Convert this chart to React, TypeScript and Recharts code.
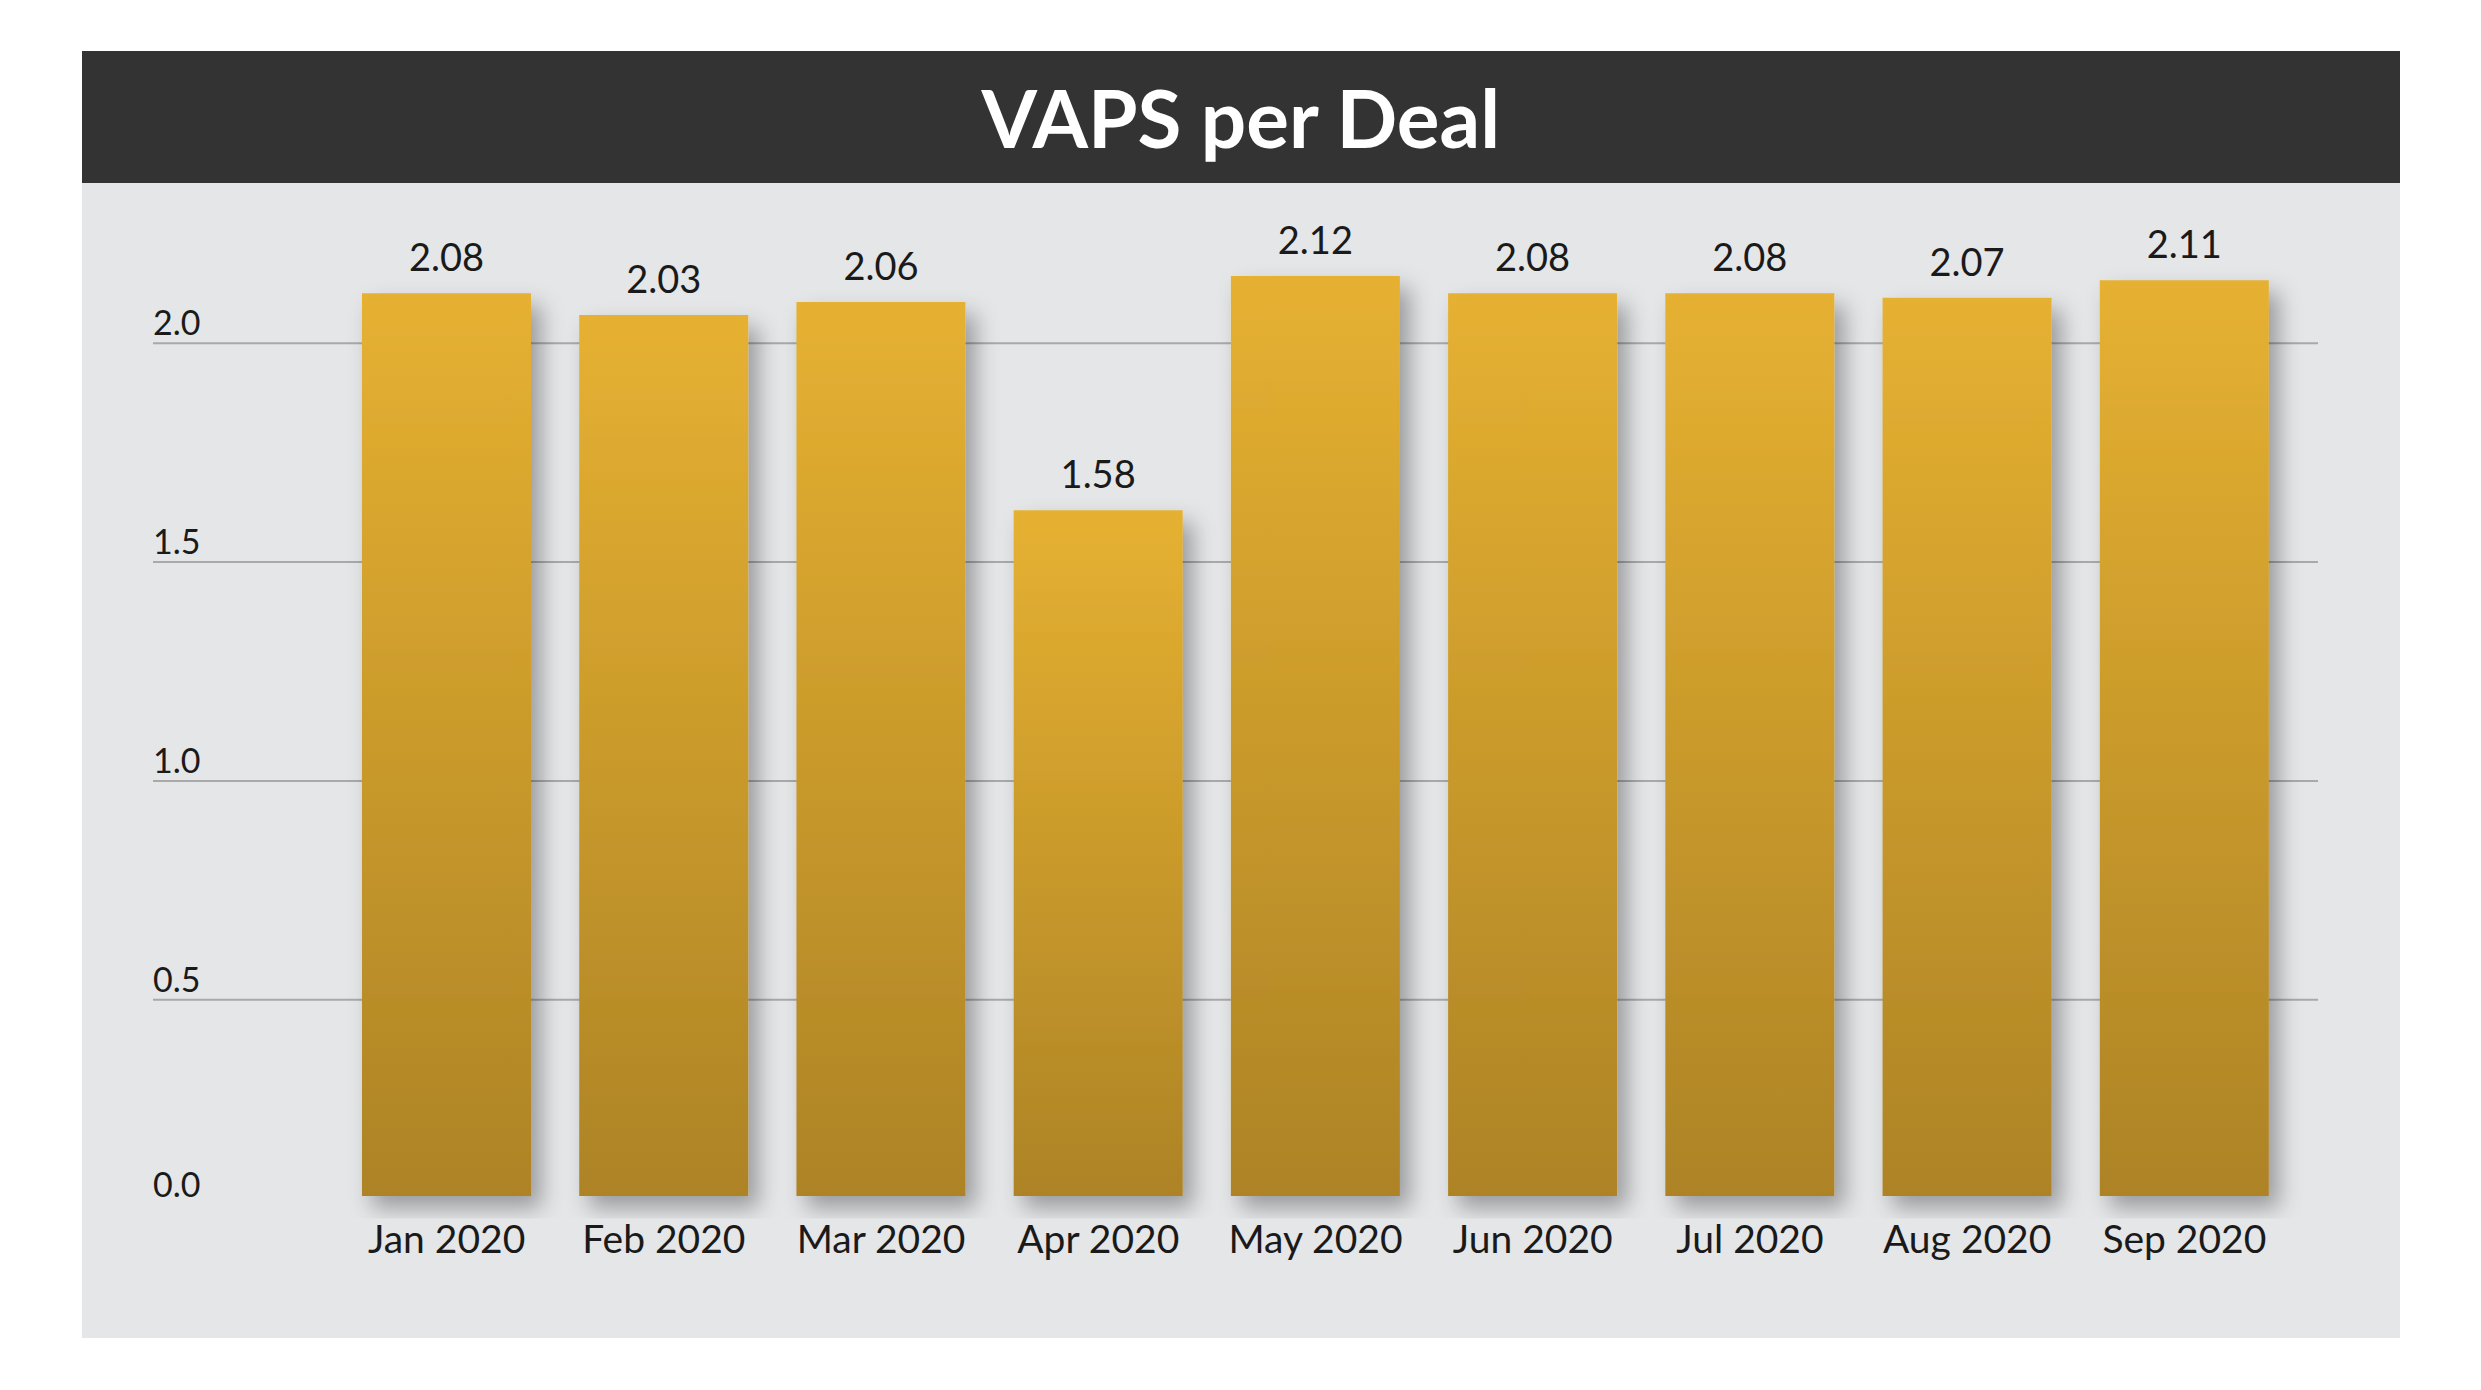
import React from 'react';
import { BarChart, Bar, XAxis, YAxis, CartesianGrid, LabelList } from 'recharts';

const months = ['Jan 2020', 'Feb 2020', 'Mar 2020', 'Apr 2020', 'May 2020', 'Jun 2020', 'Jul 2020', 'Aug 2020', 'Sep 2020'];
const vapsPerDeal = [2.08, 2.03, 2.06, 1.58, 2.12, 2.08, 2.08, 2.07, 2.11];
const yTicks = [0, 0.5, 1.0, 1.5, 2.0];
const gridValues = [0.5, 1.0, 1.5, 2.0];

const data = months.map((month, i) => ({ month, value: vapsPerDeal[i] }));

const FONT = 'Lato, "Open Sans", sans-serif';

// y labels sit left-aligned just above their gridline, the zero label sits on the bar baseline
const YTick = (props: any) => {
  const { y, payload } = props;
  const dy = payload.value === 0 ? -22 : -8;
  return (
    <text x={153} y={y + dy} textAnchor="start" fontFamily={FONT} fontSize={34} fill="#1a1a1a">
      {Number(payload.value).toFixed(1)}
    </text>
  );
};

const App: React.FC = () => {
  return (
    <div style={{ position: 'absolute', left: 0, top: 0, width: 2481, height: 1390, background: '#ffffff' }}>
      <div style={{ position: 'absolute', left: 81.5, top: 50.5, width: 2318.5, height: 1287.5, background: '#e5e6e8' }} />
      <div
        style={{
          position: 'absolute',
          left: 81.5,
          top: 50.5,
          width: 2318.5,
          height: 132.5,
          background: '#333333',
          display: 'flex',
          alignItems: 'center',
          justifyContent: 'center',
          color: '#ffffff',
          fontFamily: FONT,
          fontWeight: 700,
          fontSize: 80,
        }}
      >
        VAPS per Deal
      </div>
      <div style={{ position: 'absolute', left: 0, top: 0 }}>
        <BarChart width={2481} height={1390} data={data} margin={{ top: 255.8, right: 163, bottom: 111.5, left: 93 }}>
          <defs>
            <linearGradient id="goldFill" x1="0" y1="0" x2="0" y2="1">
              <stop offset="0%" stopColor="#e6b131" />
              <stop offset="100%" stopColor="#ad8326" />
            </linearGradient>
            <filter id="barShadow" x="-30%" y="-10%" width="170%" height="130%">
              <feDropShadow dx={10} dy={12} stdDeviation={11} floodColor="#000000" floodOpacity={0.33} />
            </filter>
          </defs>
          <CartesianGrid yAxisId="grid" vertical={false} horizontalValues={gridValues} stroke="#a8a9ab" strokeWidth={2} />
          <XAxis
            dataKey="month"
            axisLine={false}
            tickLine={false}
            tickSize={0}
            tickMargin={7}
            height={60}
            padding={{ left: 185, right: 25 }}
            interval={0}
            tick={{ fontFamily: FONT, fontSize: 39, fill: '#1a1a1a' }}
          />
          <YAxis
            yAxisId="grid"
            type="number"
            width={60}
            domain={[0, 2.2]}
            allowDataOverflow
            ticks={yTicks}
            axisLine={false}
            tickLine={false}
            tick={(p: any) => <YTick {...p} />}
          />
          <YAxis yAxisId="bars" type="number" orientation="right" width={0} hide domain={[-0.0518, 2.1664]} allowDataOverflow />
          <Bar
            yAxisId="bars"
            dataKey="value"
            barSize={169}
            fill="url(#goldFill)"
            filter="url(#barShadow)"
            isAnimationActive={false}
          >
            <LabelList
              dataKey="value"
              position="top"
              offset={22}
              formatter={(v: any) => Number(v).toFixed(2)}
              style={{ fontFamily: FONT, fontSize: 38, fill: '#1a1a1a' }}
            />
          </Bar>
        </BarChart>
      </div>
    </div>
  );
};

export default App;
